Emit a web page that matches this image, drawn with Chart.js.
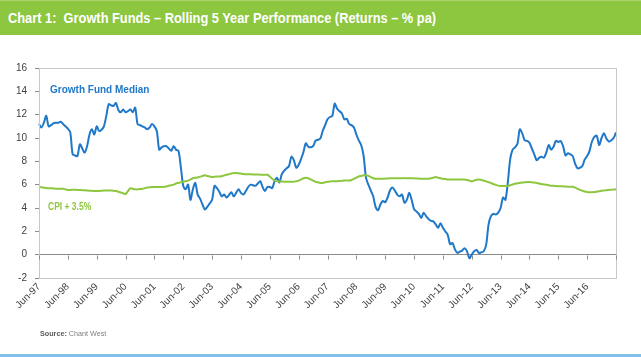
<!DOCTYPE html>
<html>
<head>
<meta charset="utf-8">
<script src="https://cdn.jsdelivr.net/npm/chart.js@4/dist/chart.umd.min.js"></script>
<style>
  html, body { margin:0; padding:0; background:#ffffff; }
  body { width:641px; height:357px; position:relative; overflow:hidden; font-family:"Liberation Sans", Arial, sans-serif; }
  #titlebar { position:absolute; left:0; top:0; width:641px; height:35px; background:#8DC63F; border-top:1px solid #A9D46E; box-sizing:border-box; }
  #titlebar span { position:absolute; left:8px; top:8px; color:#ffffff; font-family:"Liberation Sans", Arial, sans-serif; font-weight:bold; font-size:15px; line-height:18px; white-space:nowrap; transform:scaleX(0.855); transform-origin:0 50%; }
  #chartwrap { position:absolute; left:0; top:0; width:641px; height:357px; }
  .lbl { position:absolute; font-weight:bold; white-space:nowrap; transform-origin:0 50%; }
  #lblGrowth { left:50px; top:84px; color:#1F78C8; font-size:10px; }
  #lblCpi { left:48px; top:201px; color:#8DC63F; font-size:10px; transform:scaleX(0.85); }
  #source { position:absolute; left:40px; top:329px; font-size:8px; color:#7F7F7F; white-space:nowrap; transform:scaleX(0.9); transform-origin:0 50%; }
  #source b { color:#595959; }
  #bottomline { position:absolute; left:0; top:354px; width:641px; height:3px; background:#7FC1EA; }
</style>
</head>
<body>
<div id="titlebar"><span>Chart 1:&nbsp; Growth Funds – Rolling 5 Year Performance (Returns – % pa)</span></div>
<div id="chartwrap"><canvas id="c" width="641" height="357"></canvas></div>
<div class="lbl" id="lblGrowth">Growth Fund Median</div>
<div class="lbl" id="lblCpi">CPI + 3.5%</div>
<div id="source"><b>Source:</b> Chant West</div>
<div id="bottomline"></div>
<script>
// Year tick labels (one every 12 months starting Jun-97)
const tickLabels = ['Jun-97','Jun-98','Jun-99','Jun-00','Jun-01','Jun-02','Jun-03','Jun-04','Jun-05','Jun-06',
                    'Jun-07','Jun-08','Jun-09','Jun-10','Jun-11','Jun-12','Jun-13','Jun-14','Jun-15','Jun-16','Jun-17'];

// Growth Fund Median, rolling 5-year return (% pa), monthly Jun-97 .. Jun-17
const growthMedian = [
  11.2,10.9,11.3,11.9,11.0,11.1,11.25,11.3,11.3,11.4,11.2,11.0,
  10.8,10.5,8.6,8.5,8.45,9.46,9.1,8.75,9.3,10.3,10.75,10.3,
  11.0,10.6,10.7,11.0,11.9,12.9,12.8,12.75,13.0,12.4,12.2,12.45,
  12.2,12.3,12.45,12.2,12.6,11.2,11.1,11.0,10.9,10.75,10.9,11.2,
  11.0,10.6,9.0,9.2,9.3,9.3,9.1,8.9,9.3,9.0,8.9,7.5,
  5.9,5.6,6.0,4.7,5.6,6.15,5.15,4.8,4.3,3.87,4.1,4.4,
  4.7,5.9,5.7,5.4,5.0,5.15,4.9,5.1,5.36,5.0,5.3,5.6,
  5.3,5.15,5.45,5.8,6.0,5.95,5.9,6.1,6.3,5.8,5.45,5.8,
  5.8,5.7,6.3,6.6,6.2,6.9,7.2,7.4,7.6,8.4,8.1,7.45,
  7.7,8.2,8.8,9.55,9.25,9.2,9.3,9.75,9.85,9.95,10.6,11.1,
  11.6,11.8,11.9,12.95,12.5,12.3,12.1,11.6,11.65,11.2,11.1,10.9,
  10.3,9.8,9.4,8.5,6.6,6.0,5.5,5.0,4.1,3.8,4.3,4.6,
  4.5,4.9,5.5,5.75,5.5,5.15,5.0,5.15,4.45,4.7,5.3,4.7,
  3.9,3.7,3.5,3.15,3.6,3.3,3.05,2.9,2.85,2.6,2.3,2.7,
  2.3,2.0,1.7,0.9,1.0,0.45,0.15,0.25,0.35,0.55,0.3,-0.3,
  0.0,0.3,0.4,0.15,0.2,0.3,0.86,2.6,3.3,3.5,3.45,3.6,
  4.0,4.9,4.7,6.2,8.2,9.0,9.2,9.5,10.75,10.4,9.8,9.75,
  9.6,9.1,8.6,8.1,8.3,8.4,8.3,8.75,9.4,9.0,9.25,9.75,
  9.66,9.75,9.3,8.5,8.7,8.6,8.45,7.8,7.4,7.45,7.6,8.17,
  8.45,8.9,9.7,10.1,10.2,9.4,10.0,10.4,9.95,9.7,9.8,10.0,
  10.47
];

// CPI + 3.5% (rolling 5-year, % pa), monthly Jun-97 .. Jun-17
const cpiPlus = [
  5.8,5.78,5.75,5.72,5.7,5.7,5.68,5.66,5.65,5.64,5.65,5.6,
  5.55,5.55,5.56,5.57,5.55,5.55,5.53,5.52,5.5,5.48,5.47,5.45,
  5.45,5.46,5.48,5.5,5.5,5.5,5.5,5.48,5.45,5.4,5.33,5.26,
  5.2,5.45,5.7,5.65,5.6,5.6,5.62,5.65,5.7,5.75,5.78,5.8,
  5.8,5.8,5.8,5.8,5.82,5.85,5.9,5.95,6.0,6.1,6.15,6.2,
  6.25,6.3,6.35,6.45,6.55,6.6,6.62,6.68,6.75,6.8,6.75,6.7,
  6.65,6.68,6.7,6.7,6.72,6.8,6.85,6.9,6.95,7.0,7.0,6.98,
  6.95,6.92,6.9,6.9,6.9,6.88,6.88,6.88,6.86,6.85,6.85,6.85,
  6.7,6.5,6.35,6.3,6.28,6.27,6.26,6.25,6.25,6.25,6.25,6.3,
  6.35,6.45,6.55,6.6,6.55,6.45,6.35,6.25,6.2,6.15,6.15,6.2,
  6.25,6.28,6.3,6.3,6.3,6.32,6.33,6.35,6.35,6.35,6.4,6.5,
  6.6,6.7,6.75,6.8,6.8,6.75,6.65,6.55,6.5,6.5,6.5,6.5,
  6.52,6.53,6.54,6.55,6.55,6.55,6.55,6.56,6.56,6.55,6.55,6.55,
  6.54,6.53,6.52,6.5,6.5,6.5,6.5,6.55,6.6,6.65,6.6,6.55,
  6.5,6.48,6.45,6.45,6.45,6.45,6.45,6.45,6.45,6.45,6.4,6.35,
  6.28,6.35,6.42,6.45,6.4,6.35,6.28,6.22,6.15,6.05,5.98,5.92,
  5.88,5.88,5.88,5.88,5.95,6.02,6.08,6.12,6.15,6.18,6.2,6.22,
  6.22,6.2,6.18,6.15,6.1,6.05,6.02,6.0,5.95,5.9,5.9,5.88,
  5.87,5.86,5.85,5.84,5.83,5.82,5.82,5.75,5.65,5.55,5.48,5.42,
  5.38,5.36,5.36,5.37,5.4,5.43,5.47,5.5,5.53,5.55,5.57,5.58,
  5.6
];

// Month categories: one per data point; year labels come from tickLabels
const monthCategories = growthMedian.map((_, i) => i);

const boxPlugin = {
  id: 'boxAndZeroTicks',
  afterDraw(chart) {
    const { ctx, chartArea: a, scales } = chart;
    ctx.save();
    ctx.strokeStyle = '#C8C8C8';
    ctx.lineWidth = 1;
    ctx.strokeRect(Math.round(a.left) + 0.5, Math.round(a.top) + 0.5, Math.round(a.right - a.left), Math.round(a.bottom - a.top));
    const y0 = Math.round(scales.y.getPixelForValue(0)) + 0.5;
    ctx.strokeStyle = '#8C8C8C';
    ctx.beginPath();
    for (let i = 0; i < monthCategories.length; i += 12) {
      const x = Math.round(scales.x.getPixelForValue(i)) + 0.5;
      ctx.moveTo(x, y0);
      ctx.lineTo(x, y0 + 4);
    }
    ctx.stroke();
    ctx.restore();
  }
};

new Chart(document.getElementById('c'), {
  type: 'line',
  data: {
    labels: monthCategories,
    datasets: [
      { label: 'CPI + 3.5%', data: cpiPlus, borderColor: '#8DC63F', borderWidth: 2, pointRadius: 0, tension: 0.3, fill: false },
      { label: 'Growth Fund Median', data: growthMedian, borderColor: '#1F78C8', borderWidth: 2, pointRadius: 0, tension: 0.3, fill: false }
    ]
  },
  options: {
    responsive: false,
    animation: false,
    devicePixelRatio: 1,
    layout: { padding: { top: 68, right: 25, bottom: 0, left: 0 } },
    plugins: { legend: { display: false }, tooltip: { enabled: false } },
    scales: {
      x: {
        type: 'category',
        offset: false,
        afterFit(scale) { scale.height = 79; },
        grid: { display: false, drawTicks: false },
        border: { display: false },
        ticks: {
          autoSkip: false,
          minRotation: 45,
          maxRotation: 45,
          padding: 3,
          color: '#404040',
          font: { family: 'Liberation Sans', size: 10 },
          callback(value, index) {
            if (index % 12 === 0 && index / 12 < tickLabels.length - 1) return tickLabels[index / 12];
            return '';
          }
        }
      },
      y: {
        min: -2,
        max: 16,
        afterFit(scale) { scale.width = 39; },
        grid: {
          color: (c) => (c.tick && c.tick.value === 0 ? '#8C8C8C' : 'rgba(0,0,0,0)'),
          tickColor: '#8C8C8C',
          tickLength: 4,
          drawTicks: true
        },
        border: { display: true, color: '#8C8C8C' },
        ticks: {
          stepSize: 2,
          padding: 8,
          color: '#404040',
          font: { family: 'Liberation Sans', size: 10 }
        }
      }
    }
  },
  plugins: [boxPlugin]
});
</script>
</body>
</html>
